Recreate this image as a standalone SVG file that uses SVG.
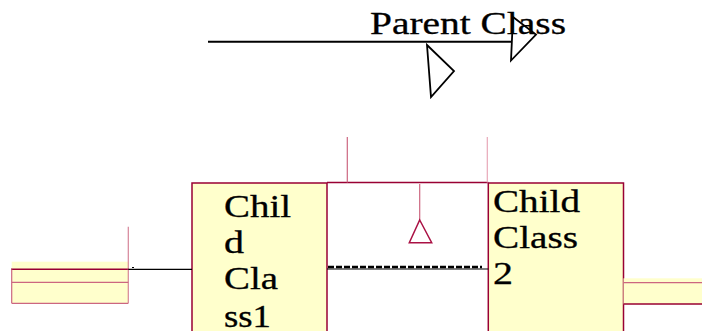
<svg xmlns="http://www.w3.org/2000/svg" width="702" height="331" viewBox="0 0 702 331">
<style>
.lbl{font-family:"Liberation Serif","Times New Roman",serif;font-size:31px;fill:#000;stroke:#000;stroke-width:0.3}
.box{fill:#FFFFCC;stroke:#990033;stroke-width:1.5}
.dk{stroke:#990033;stroke-width:1.5;fill:none}
.pk{stroke:#CC6680;stroke-width:1.2;fill:none}
.blk{stroke:#000;fill:none}
</style>
<rect width="702" height="331" fill="#fff"/>
<g id="parent">
<text class="lbl" x="370" y="34" textLength="196" lengthAdjust="spacingAndGlyphs">Parent Class</text>
</g>
<g id="leftStub">
<rect x="11.7" y="261.7" width="116.6" height="41.6" fill="#FFFFCC"/>
<line class="dk" x1="11" y1="269.3" x2="129" y2="269.3"/>
<line class="pk" x1="11.7" y1="282.3" x2="128.3" y2="282.3"/>
<line class="pk" x1="11.7" y1="303.3" x2="128.3" y2="303.3"/>
<line class="pk" x1="11.7" y1="269.3" x2="11.7" y2="303.3"/>
<line class="pk" x1="128.3" y1="226.7" x2="128.3" y2="303.3" stroke-opacity="0.8"/>
</g>
<g id="child1">
<rect class="box" x="192" y="183" width="135" height="160"/>
<text class="lbl" x="224" y="216.7" textLength="67" lengthAdjust="spacingAndGlyphs">Chil</text>
<text class="lbl" x="224" y="253.3" textLength="20" lengthAdjust="spacingAndGlyphs">d</text>
<text class="lbl" x="224" y="289.3" textLength="54" lengthAdjust="spacingAndGlyphs">Cla</text>
<text class="lbl" x="224" y="326.5" textLength="47" lengthAdjust="spacingAndGlyphs">ss1</text>
</g>
<g id="child2">
<rect class="box" x="488.3" y="183" width="135.2" height="160"/>
<text class="lbl" x="493" y="211.7" textLength="87" lengthAdjust="spacingAndGlyphs">Child</text>
<text class="lbl" x="493" y="248.3" textLength="85" lengthAdjust="spacingAndGlyphs">Class</text>
<text class="lbl" x="493" y="284.3" textLength="20" lengthAdjust="spacingAndGlyphs">2</text>
</g>
<g id="rightStub">
<rect x="623.5" y="278.3" width="78.5" height="26" fill="#FFFFCC"/>
<line class="pk" x1="623.5" y1="282.7" x2="702" y2="282.7"/>
<line class="dk" x1="623.5" y1="304" x2="702" y2="304"/>
</g>
<g id="connectors">
<line class="blk" x1="208" y1="41.7" x2="512" y2="41.7" stroke-width="2"/>
<polygon class="blk" points="513,17 536,34.5 511,60.5" stroke-width="1.8"/>
<polygon class="blk" points="427,45 454,71 431,97" stroke-width="1.8"/>
<line class="dk" x1="327" y1="182.5" x2="488.3" y2="182.5"/>
<line class="pk" x1="347.3" y1="137" x2="347.3" y2="182.5"/>
<line x1="487.3" y1="137" x2="487.3" y2="182.5" stroke="#E8A8B8" stroke-width="1.2"/>
<line class="pk" x1="419.7" y1="184" x2="419.7" y2="220"/>
<polygon points="419.7,220 431.7,242.7 409.3,242.7" fill="#fff" stroke="#AA1144" stroke-width="1.5"/>
<line class="blk" x1="327" y1="269" x2="488.3" y2="269" stroke-width="1.2"/>
<line class="blk" x1="328" y1="267" x2="482" y2="267" stroke-width="2.5" stroke-dasharray="6 2"/>
<line class="blk" x1="128.3" y1="269.3" x2="192" y2="269.3" stroke-width="1.3"/>
<line class="blk" x1="132" y1="267.5" x2="134" y2="267.5" stroke-width="1"/>
</g>
</svg>
